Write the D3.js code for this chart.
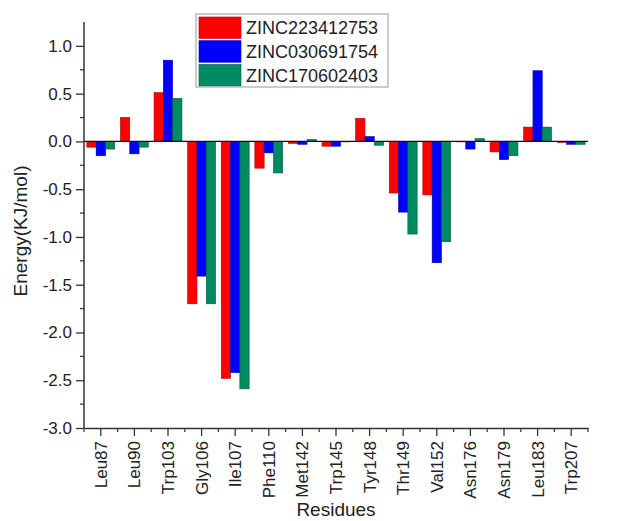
<!DOCTYPE html>
<html>
<head>
<meta charset="utf-8">
<script src="https://cdn.jsdelivr.net/npm/d3@7"></script>
<style>
  body { margin: 0; background: #fff; }
  svg { display: block; font-family: Arial, "Liberation Sans", sans-serif; }
</style>
</head>
<body>
<svg id="chart" width="620" height="521"></svg>
<script>
// residues on the x axis
const residues = ['Leu87', 'Leu90', 'Trp103', 'Gly106', 'Ile107', 'Phe110', 'Met142', 'Trp145',
  'Tyr148', 'Thr149', 'Val152', 'Asn176', 'Asn179', 'Leu183', 'Trp207'];

const seriesNames = ['ZINC223412753', 'ZINC030691754', 'ZINC170602403'];
const seriesColors = ['#ff0000', '#0000ff', '#008a62'];

// energy values (KJ/mol)
const zinc223412753 = [-0.06, 0.25, 0.51, -1.70, -2.48, -0.28, -0.02, -0.05, 0.24, -0.54, -0.56, -0.005, -0.11, 0.15, -0.01];
const zinc030691754 = [-0.15, -0.13, 0.85, -1.41, -2.42, -0.12, -0.03, -0.05, 0.05, -0.74, -1.27, -0.08, -0.19, 0.74, -0.03];
const zinc170602403 = [-0.08, -0.06, 0.45, -1.70, -2.59, -0.33, 0.02, -0.005, -0.04, -0.97, -1.05, 0.03, -0.15, 0.15, -0.03];

const yTicks = [-3.0, -2.5, -2.0, -1.5, -1.0, -0.5, 0.0, 0.5, 1.0];

const allSeries = [zinc223412753, zinc030691754, zinc170602403];

const svg = d3.select('#chart');
const margin = { left: 84, right: 32, top: 22, bottom: 93 };
const W = 620, H = 521;

let xScale = d3.scaleBand()
  .domain(residues)
  .range([margin.left, W - margin.right])
  .paddingInner(0.17)
  .paddingOuter(0.085);

let subScale = d3.scaleBand()
  .domain(seriesNames)
  .range([0, xScale.bandwidth()]);

let yScale = d3.scaleLinear()
  .domain([-3, 1.25])
  .range([H - margin.bottom, margin.top]);

const axisColor = '#333';

// bars
residues.forEach((r, i) => {
  const g = svg.append('g').attr('transform', `translate(${xScale(r)},0)`);
  allSeries.forEach((vals, s) => {
    const v = vals[i];
    g.append('rect')
      .attr('x', subScale(seriesNames[s]))
      .attr('width', subScale.bandwidth())
      .attr('y', yScale(Math.max(0, v)))
      .attr('height', Math.abs(yScale(v) - yScale(0)))
      .attr('fill', seriesColors[s])
      .attr('stroke', d3.color(seriesColors[s]).darker(1.2))
      .attr('stroke-width', 0.6);
  });
});

// zero line
svg.append('line')
  .attr('x1', margin.left).attr('x2', W - margin.right)
  .attr('y1', yScale(0)).attr('y2', yScale(0))
  .attr('stroke', '#111').attr('stroke-width', 1.2);

// y axis
let yAxis = d3.axisLeft(yScale)
  .tickValues(yTicks)
  .tickFormat(d3.format('.1f'))
  .tickSize(8)
  .tickSizeOuter(0);
const yG = svg.append('g')
  .attr('transform', `translate(${margin.left},0)`)
  .call(yAxis);
yG.select('.domain').attr('stroke', axisColor).attr('stroke-width', 1.5)
  .attr('d', `M0,${yScale(1.25)}V${yScale(-3)}`);
yG.selectAll('.tick line').attr('stroke', axisColor).attr('stroke-width', 1.3);
yG.selectAll('.tick text')
  .attr('x', -12)
  .attr('fill', '#222')
  .style('font-size', '17px')
  .text(d => d3.format('.1f')(d).replace('−', '-'));
// minor y ticks
yG.selectAll('.minor')
  .data(yTicks.slice(0, -1).map(t => t + 0.25))
  .enter().append('line')
  .attr('x1', -4).attr('x2', 0)
  .attr('y1', d => yScale(d)).attr('y2', d => yScale(d))
  .attr('stroke', axisColor).attr('stroke-width', 1.2);

// x axis
let xAxis = d3.axisBottom(xScale).tickSize(8).tickSizeOuter(0);
const xG = svg.append('g')
  .attr('transform', `translate(0,${H - margin.bottom})`)
  .call(xAxis);
xG.select('.domain').attr('stroke', axisColor).attr('stroke-width', 1.5);
xG.selectAll('.tick line').attr('stroke', axisColor).attr('stroke-width', 1.3);
xG.selectAll('.tick text')
  .attr('fill', '#222')
  .style('font-size', '17px')
  .attr('text-anchor', 'end')
  .attr('transform', 'rotate(-90)')
  .attr('x', -13)
  .attr('y', 0)
  .attr('dy', '0.35em');
// minor x ticks at band edges
const step = xScale.step();
xG.selectAll('.minor')
  .data(d3.range(residues.length + 1))
  .enter().append('line')
  .attr('x1', k => margin.left + k * step).attr('x2', k => margin.left + k * step)
  .attr('y1', 0).attr('y2', 4)
  .attr('stroke', axisColor).attr('stroke-width', 1.2);

// axis titles
svg.append('text')
  .attr('transform', `translate(27,${(yScale(1.25) + yScale(-3)) / 2 + 6}) rotate(-90)`)
  .attr('text-anchor', 'middle')
  .attr('fill', '#222')
  .style('font-size', '19px')
  .text('Energy(KJ/mol)');

svg.append('text')
  .attr('x', 336)
  .attr('y', 516)
  .attr('text-anchor', 'middle')
  .attr('fill', '#222')
  .style('font-size', '19px')
  .text('Residues');

// legend
const legend = svg.append('g').attr('transform', 'translate(196,14)');
legend.append('rect')
  .attr('width', 192).attr('height', 73)
  .attr('fill', '#fff').attr('stroke', '#aaa').attr('stroke-width', 1.2);
seriesNames.forEach((name, s) => {
  legend.append('rect')
    .attr('x', 3).attr('y', 3 + s * 23.7)
    .attr('width', 42).attr('height', 21.5)
    .attr('fill', seriesColors[s])
    .attr('stroke', d3.color(seriesColors[s]).darker(1)).attr('stroke-width', 0.6);
  legend.append('text')
    .attr('x', 50).attr('y', 14 + s * 23.7)
    .attr('dy', '0.35em')
    .attr('fill', '#222')
    .style('font-size', '18px')
    .text(name);
});
</script>
</body>
</html>
